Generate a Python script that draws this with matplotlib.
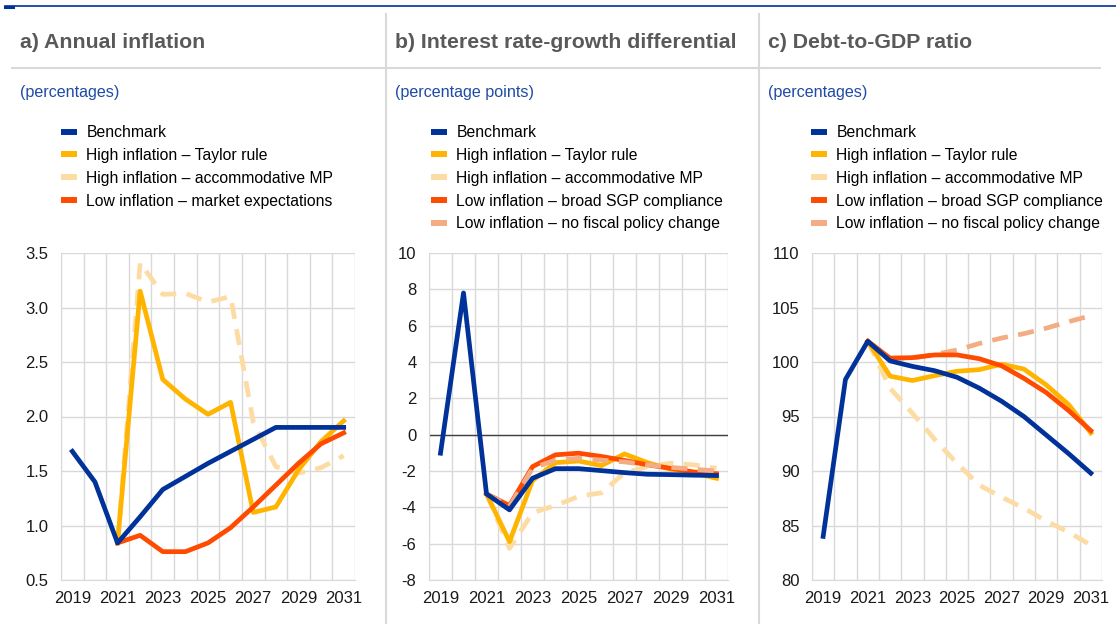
import matplotlib
matplotlib.use("Agg")
import matplotlib.pyplot as plt
from matplotlib.lines import Line2D
from matplotlib.ticker import FixedLocator, FormatStrFormatter

plt.rcParams["font.family"] = ["Liberation Sans", "DejaVu Sans"]

years = list(range(2019, 2032))
year_labels = [str(y) if (y - 2019) % 2 == 0 else "" for y in years]

# a) annual inflation (%), 2019-2031
infl_bench = [1.68, 1.40, 0.84, 1.08, 1.33, 1.45, 1.57, 1.68, 1.79, 1.90, 1.90, 1.90, 1.90]
infl_taylor = [None, None, 0.84, 3.15, 2.34, 2.16, 2.02, 2.13, 1.12, 1.17, 1.51, 1.77, 1.96]
infl_accom = [None, None, 0.84, 3.41, 3.12, 3.13, 3.05, 3.10, 1.95, 1.54, 1.48, 1.53, 1.64]
infl_low = [None, None, 0.84, 0.91, 0.76, 0.76, 0.84, 0.98, 1.17, 1.37, 1.57, 1.75, 1.85]

# b) interest rate-growth differential (pp)
irg_bench = [-1.02, 7.80, -3.26, -4.14, -2.40, -1.87, -1.87, -1.98, -2.09, -2.18, -2.20, -2.23, -2.25]
irg_taylor = [None, None, -3.26, -5.89, -2.53, -1.54, -1.45, -1.70, -1.06, -1.54, -1.90, -2.10, -2.40]
irg_accom = [None, None, -3.26, -6.26, -4.30, -3.90, -3.40, -3.20, -2.10, -1.76, -1.57, -1.66, -1.85]
irg_sgp = [None, None, -3.26, -3.90, -1.76, -1.11, -1.02, -1.20, -1.42, -1.66, -1.85, -2.05, -2.15]
irg_nofisc = [None, None, -3.26, -3.95, -1.85, -1.40, -1.30, -1.40, -1.50, -1.66, -1.80, -1.90, -2.00]

# c) debt-to-GDP ratio (%)
debt_bench = [84.0, 98.4, 101.9, 100.1, 99.6, 99.2, 98.6, 97.6, 96.4, 95.0, 93.3, 91.6, 89.8]
debt_taylor = [None, None, 101.9, 98.7, 98.3, 98.75, 99.15, 99.3, 99.8, 99.35, 97.9, 96.1, 93.5]
debt_accom = [None, None, 101.9, 97.6, 95.3, 92.9, 90.7, 88.7, 87.6, 86.6, 85.4, 84.4, 83.2]
debt_sgp = [None, None, 101.9, 100.35, 100.4, 100.65, 100.65, 100.3, 99.65, 98.5, 97.2, 95.55, 93.7]
debt_nofisc = [None, None, 101.9, 100.35, 100.35, 100.7, 101.1, 101.7, 102.2, 102.6, 103.1, 103.7, 104.25]

BLUE = "#003299"
YELLOW = "#ffb400"
LIGHT_YELLOW = "#fddca4"
RED = "#ff4b00"
SALMON = "#f4ad82"
GRID = "#d9d9d9"

lab_bench = "Benchmark"
lab_taylor = "High inflation \u2013 Taylor rule"
lab_accom = "High inflation \u2013 accommodative MP"
lab_market = "Low inflation \u2013 market expectations"
lab_sgp = "Low inflation \u2013 broad SGP compliance"
lab_nofisc = "Low inflation \u2013 no fiscal policy change"

fig = plt.figure(figsize=(11.16, 6.24), dpi=100)
W, H = 1116, 624


def fx(px):
    return px / W


def fy(py):
    return 1 - py / H


def setup(ax, ymin, ymax, step, fmt):
    ax.set_xlim(-0.5, 12.5)
    ax.set_ylim(ymin, ymax)
    ax.xaxis.set_major_locator(FixedLocator(list(range(13))))
    ax.set_xticklabels(year_labels)
    ax.xaxis.set_minor_locator(FixedLocator([i - 0.5 for i in range(14)]))
    ticks = []
    v = ymin
    while v <= ymax + 1e-9:
        ticks.append(round(v, 6))
        v += step
    ax.set_yticks(ticks)
    ax.yaxis.set_major_formatter(FormatStrFormatter(fmt))
    ax.grid(axis="y", which="major", color=GRID, lw=1)
    ax.grid(axis="x", which="minor", color=GRID, lw=1)
    ax.grid(axis="x", which="major", visible=False)
    for s in ["top", "right"]:
        ax.spines[s].set_visible(False)
    for s in ["left", "bottom"]:
        ax.spines[s].set_color(GRID)
    ax.tick_params(axis="both", which="both", length=0, labelsize=12, colors="#1a1a1a")
    ax.tick_params(axis="y", pad=9)
    ax.tick_params(axis="x", pad=8)
    ax.set_axisbelow(True)


def series(ax, vals, color, dashed=False, z=3):
    xs = [i for i, v in enumerate(vals) if v is not None]
    ys = [v for v in vals if v is not None]
    if dashed:
        ax.plot(xs, ys, color=color, lw=3.4, dashes=(3.4, 2.2), zorder=z)
    else:
        ax.plot(xs, ys, color=color, lw=3.4, zorder=z)


def legend(ax, x_px, items):
    handles = [Line2D([], [], color=c, lw=4.3, solid_capstyle="butt") for c, _ in items]
    labels = [t for _, t in items]
    fig.legend(handles, labels, loc="upper left", bbox_to_anchor=(fx(x_px), fy(125)),
               frameon=False, fontsize=11.3, handlelength=1.0, handletextpad=0.62,
               labelspacing=0.5, borderpad=0, borderaxespad=0)


# panel a
ax1 = fig.add_axes([fx(61), fy(580), fx(355 - 61), (580 - 253) / H])
setup(ax1, 0.5, 3.5, 0.5, "%.1f")
series(ax1, infl_accom, LIGHT_YELLOW, dashed=True, z=2)
series(ax1, infl_taylor, YELLOW, z=3)
series(ax1, infl_low, RED, z=4)
series(ax1, infl_bench, BLUE, z=5)

# panel b
ax2 = fig.add_axes([fx(429), fy(580), fx(728 - 429), (580 - 253) / H])
setup(ax2, -8, 10, 2, "%d")
ax2.axhline(0, color="#404040", lw=1, zorder=1.5)
series(ax2, irg_accom, LIGHT_YELLOW, dashed=True, z=2)
series(ax2, irg_taylor, YELLOW, z=3)
series(ax2, irg_sgp, RED, z=4)
series(ax2, irg_nofisc, SALMON, dashed=True, z=4.5)
series(ax2, irg_bench, BLUE, z=6)

# panel c
ax3 = fig.add_axes([fx(812), fy(580), fx(1102 - 812), (580 - 253) / H])
setup(ax3, 80, 110, 5, "%d")
series(ax3, debt_accom, LIGHT_YELLOW, dashed=True, z=2)
series(ax3, debt_nofisc, SALMON, dashed=True, z=2.5)
series(ax3, debt_taylor, YELLOW, z=3)
series(ax3, debt_sgp, RED, z=4)
series(ax3, debt_bench, BLUE, z=6)

# titles, units and legends
titles = ["a) Annual inflation", "b) Interest rate-growth differential", "c) Debt-to-GDP ratio"]
units = ["(percentages)", "(percentage points)", "(percentages)"]
title_x = [20, 395, 768]
for t, u, x in zip(titles, units, title_x):
    fig.text(fx(x), fy(42), t, fontsize=15.3, fontweight="bold", color="#595959", va="center")
    fig.text(fx(x), fy(92), u, fontsize=11.6, color="#1f4ba5", va="center")

legend(ax1, 61, [(BLUE, lab_bench), (YELLOW, lab_taylor), (LIGHT_YELLOW, lab_accom), (RED, lab_market)])
legend(ax2, 431, [(BLUE, lab_bench), (YELLOW, lab_taylor), (LIGHT_YELLOW, lab_accom),
                  (RED, lab_sgp), (SALMON, lab_nofisc)])
legend(ax3, 811, [(BLUE, lab_bench), (YELLOW, lab_taylor), (LIGHT_YELLOW, lab_accom),
                  (RED, lab_sgp), (SALMON, lab_nofisc)])

# frame lines
fig.add_artist(Line2D([fx(5), fx(1116)], [fy(5.5), fy(5.5)], color=BLUE, lw=1.2))
fig.add_artist(Line2D([fx(5), fx(13)], [fy(6.5), fy(6.5)], color=BLUE, lw=2.2))
fig.add_artist(Line2D([fx(12), fx(1100)], [fy(68), fy(68)], color=GRID, lw=1.5))
for sx in [386, 759]:
    fig.add_artist(Line2D([fx(sx), fx(sx)], [fy(14), fy(624)], color=GRID, lw=1.5))

fig.savefig("out.png", dpi=100)
